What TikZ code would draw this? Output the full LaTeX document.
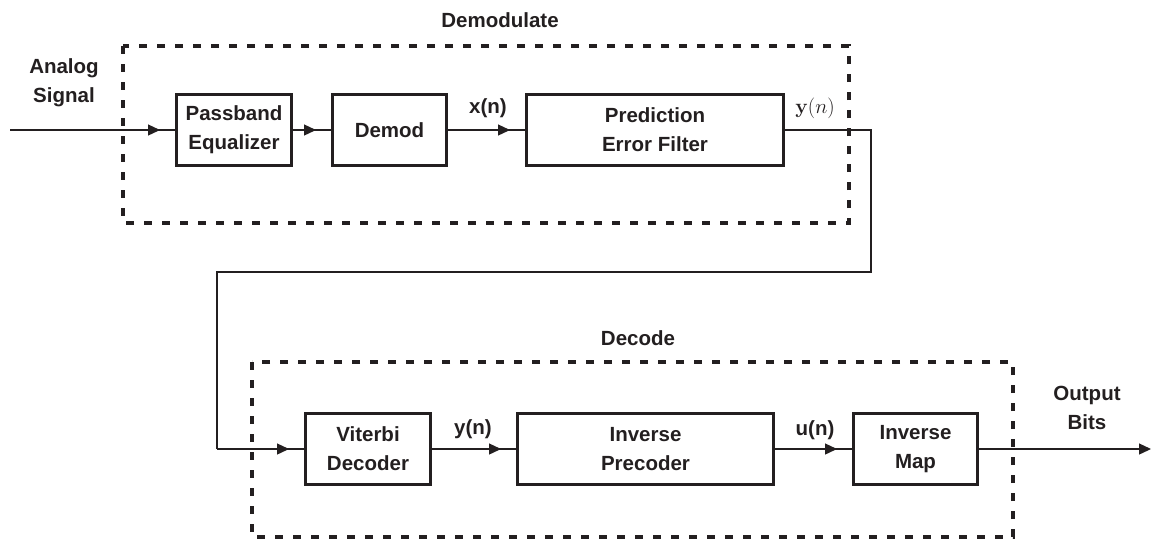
\documentclass[tikz,border=0pt]{standalone}
\usepackage[no-math]{fontspec}
\setmainfont{Liberation Sans}
\usetikzlibrary{arrows.meta,decorations.markings}
\definecolor{ink}{HTML}{231F20}
\begin{document}
\begin{tikzpicture}[x=1pt,y=-1pt,
  every node/.style={font=\fontsize{20.5}{29}\selectfont\bfseries, text=ink},
  blk/.style={draw=ink, line width=3pt, rectangle, align=center, inner sep=0pt, minimum height=71pt},
  grp/.style={draw=ink, line width=3.5pt, dash pattern=on 8pt off 10pt},
  lbl/.style={align=center, inner sep=0pt},
  flow/.style={draw=ink, line width=1.3pt, postaction={decorate},
    decoration={markings, mark=at position -15pt with {\arrow{Triangle[length=12pt,width=11pt]}}}},
  wire/.style={draw=ink, line width=1.3pt}]
\useasboundingbox (0,0) rectangle (1151,542);
% groups
\draw[grp] (123,46) rectangle (849,223);
\draw[grp] (252,362) rectangle (1013,537);
\node[lbl] (tDemodulate) at (500,20) {Demodulate};
\node[lbl] (tDecode) at (638,338) {Decode};
% blocks
\node[blk, minimum width=115pt] (pe) at (234,130) {Passband\\Equalizer};
\node[blk, minimum width=114pt] (dm) at (389.5,130) {Demod};
\node[blk, minimum width=257pt] (pef) at (655,130) {Prediction\\Error Filter};
\node[blk, minimum width=125pt] (vd) at (368,449) {Viterbi\\Decoder};
\node[blk, minimum width=256pt] (ip) at (645.5,449) {Inverse\\Precoder};
\node[blk, minimum width=124pt] (im) at (915.5,449) {Inverse\\Map};
% labels
\node[lbl] (tin) at (64,83) {Analog\\Signal};
\node[lbl] (tout) at (1087,408) {Output\\Bits};
\node[lbl] (txn) at (488,108) {x(n)};
\node[lbl, font=\fontsize{21}{28}\selectfont] (tyn) at (815,108) {$\mathbf{y(}n)$};
\node[lbl] (tyn2) at (473,429) {y(n)};
\node[lbl] (tun) at (815,430) {u(n)};
% coordinates
\coordinate (in) at (10,130);
\coordinate (c1) at (871,130);
\coordinate (c2) at (871,272);
\coordinate (c3) at (217,272);
\coordinate (c4) at (217,449);
\coordinate (out) at (1151,449);
% connectors
\path[flow] (in) -- (pe.west);
\path[flow] (pe.east) -- (dm.west);
\path[flow] (dm.east) -- (pef.west);
\path[wire] (pef.east) -- (c1) -- (c2) -- (c3) -- (c4);
\path[flow] (c4) -- (vd.west);
\path[flow] (vd.east) -- (ip.west);
\path[flow] (ip.east) -- (im.west);
\path[wire, -{Triangle[length=12pt,width=11pt]}] (im.east) -- (out);
\end{tikzpicture}
\end{document}
